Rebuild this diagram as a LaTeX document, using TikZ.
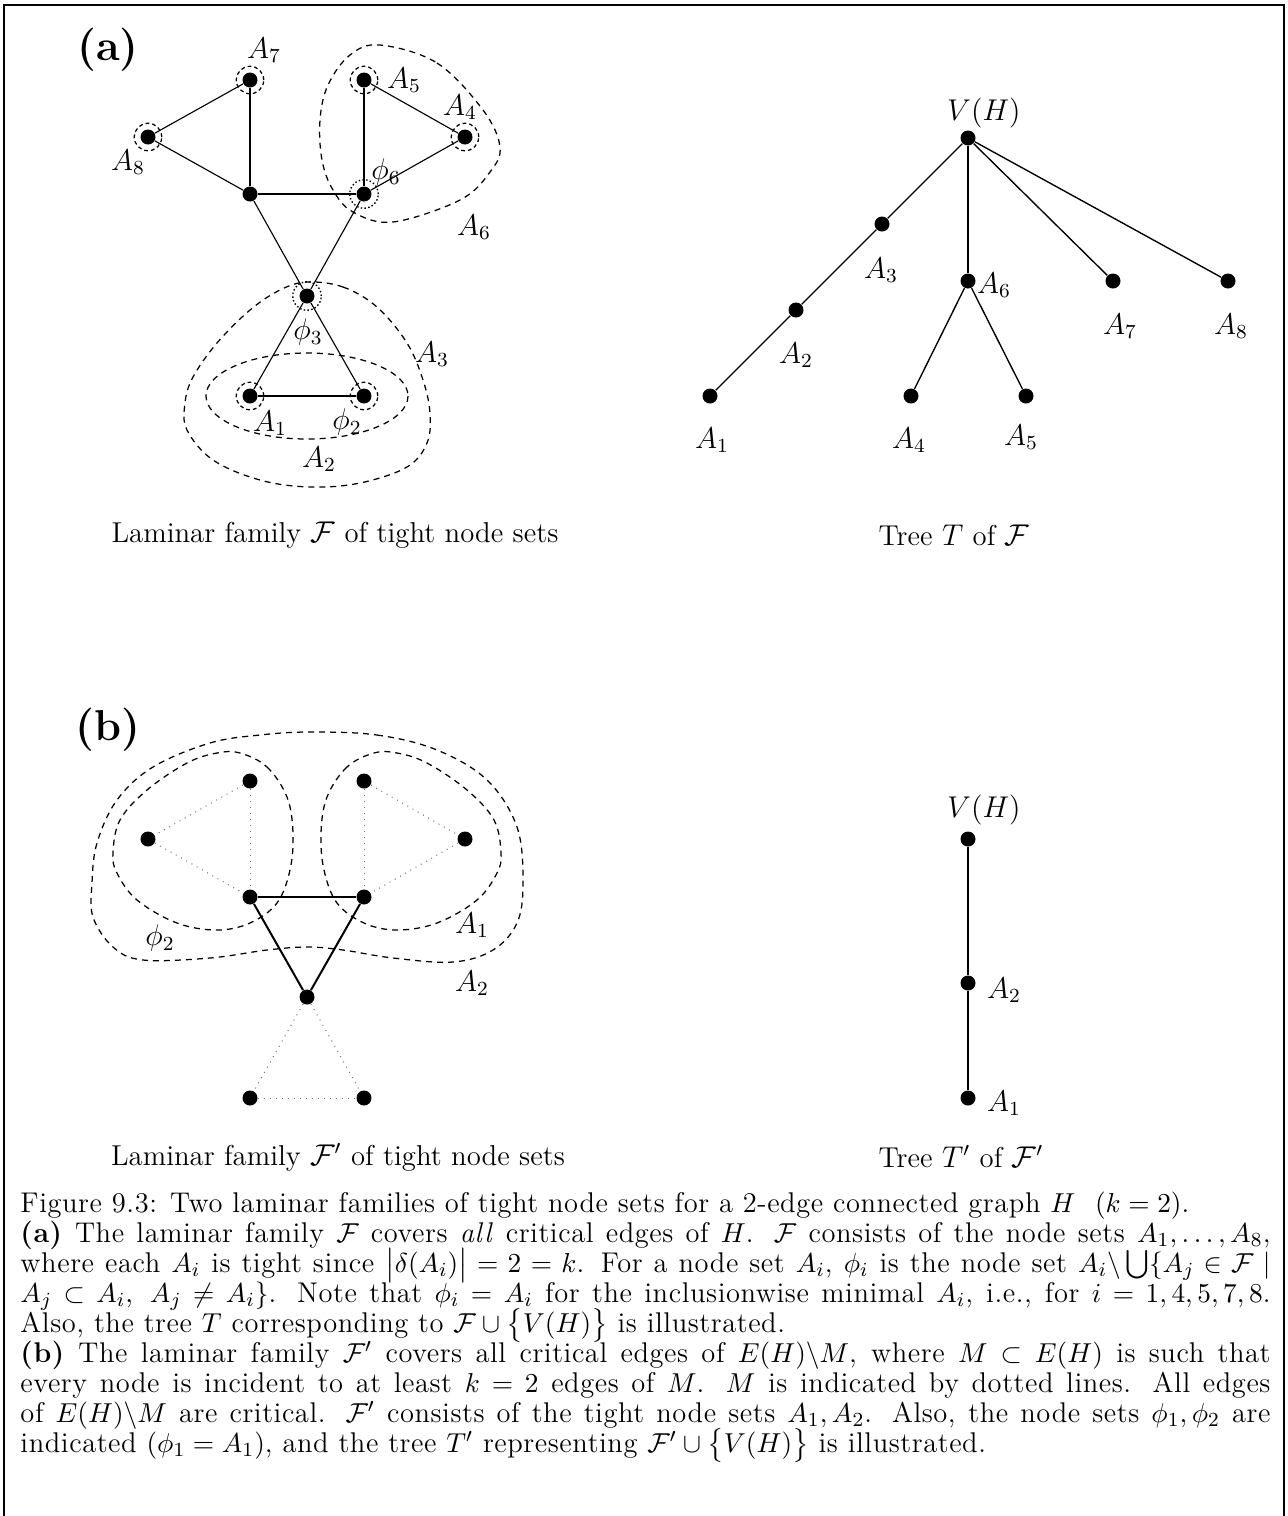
\documentclass[tikz,border=0pt]{standalone}
\usepackage{amsmath,amssymb}
\usepackage{fontspec}
\setmainfont{Latin Modern Roman}
\begin{document}
\begin{tikzpicture}[x=0.4pt,y=-0.4pt,
  dot/.style={circle,fill=black,inner sep=0pt,minimum size=6pt},
  ring/.style={circle,draw,dash pattern=on 1.5pt off 1.2pt,line width=0.5pt,minimum size=11pt,inner sep=0pt},
  dring/.style={circle,draw,dash pattern=on 0.6pt off 0.9pt,line width=0.55pt,minimum size=11.4pt,inner sep=0pt},
  edge/.style={line width=0.45pt},
  tedge/.style={line width=0.55pt},
  critedge/.style={line width=0.8pt},
  medge/.style={dotted,line width=0.4pt,black!55},
  setline/.style={dash pattern=on 2.4pt off 2pt,line width=0.5pt},
  lab/.style={inner sep=0pt,font=\fontsize{11.5}{13}\selectfont},
  sub/.style={inner sep=0pt,font=\fontsize{11.5}{13}\selectfont},
  part/.style={inner sep=0pt,font=\fontsize{17.28}{20}\selectfont\bfseries}
]
\useasboundingbox (0,0) rectangle (1288,1516);
% frame
\draw[line width=0.8pt] (4,1530) -- (4,5) -- (1284,5) -- (1284,1530);

% ---------------- (a) graph
\node[part] (pa) at (108,50) {(a)};
\node[dot] (g7) at (250,80) {};
\node[dot] (g8) at (148,137) {};
\node[dot] (gc) at (250,194) {};
\node[dot] (g6) at (364,194) {};
\node[dot] (g5) at (364,80) {};
\node[dot] (g4) at (465,137) {};
\node[dot] (g3) at (307,296) {};
\node[dot] (g1) at (250,396) {};
\node[dot] (g2) at (364,396) {};
\node[ring] (r7) at (250,80) {};
\node[ring] (r8) at (148,137) {};
\node[ring] (r5) at (364,80) {};
\node[ring] (r4) at (465,137) {};
\node[ring] (r1) at (250,396) {};
\node[ring] (r2) at (364,396) {};
\node[dring] (d6) at (364,194) {};
\node[dring] (d3) at (307,296) {};
\draw[edge] (g8) -- (g7);
\draw[edge] (g7) -- (gc);
\draw[edge] (g8) -- (gc);
\draw[edge] (gc) -- (g6);
\draw[edge] (g5) -- (g6);
\draw[edge] (g5) -- (g4);
\draw[edge] (g4) -- (g6);
\draw[edge] (gc) -- (g3);
\draw[edge] (g6) -- (g3);
\draw[edge] (g3) -- (g1);
\draw[edge] (g3) -- (g2);
\draw[edge] (g1) -- (g2);
% set curves
\draw[setline] plot[smooth cycle,tension=0.6] coordinates {(380,45) (437,63) (483,110) (500,147) (490,172) (460,200) (393,222) (353,212) (333,190) (322,160) (320,120) (328,85) (350,55)};
\draw[setline] plot[smooth cycle,tension=0.6] coordinates {(307,282) (343,287) (377,307) (407,343) (423,380) (430,413) (427,443) (407,467) (360,483) (310,487) (260,480) (213,460) (187,430) (185,403) (193,377) (217,343) (250,310) (280,290)};
\draw[setline] (307,396) ellipse [x radius=101, y radius=43];
% labels
\node[lab] (l7) at (264,50) {$A_7$};
\node[lab] (l5) at (404,80) {$A_5$};
\node[lab] (l4) at (460,107) {$A_4$};
\node[lab] (l8) at (128,162) {$A_8$};
\node[lab] (p6) at (386,172) {$\phi_6$};
\node[lab] (l6) at (474,227) {$A_6$};
\node[lab] (p3) at (308,332) {$\phi_3$};
\node[lab] (l3) at (432,354) {$A_3$};
\node[lab] (l1) at (270,423) {$A_1$};
\node[lab] (p2) at (347,422) {$\phi_2$};
\node[lab] (l2) at (319,459) {$A_2$};
\node[sub] (capa) at (335,535) {Laminar family $\mathcal{F}$ of tight node sets};

% ---------------- (a) tree
\node[dot] (tv) at (968,138) {};
\node[dot] (t3) at (882,224) {};
\node[dot] (t2) at (796,310) {};
\node[dot] (t1) at (710,396) {};
\node[dot] (t6) at (968,281) {};
\node[dot] (t4) at (911,396) {};
\node[dot] (t5) at (1026,396) {};
\node[dot] (t7) at (1113,281) {};
\node[dot] (t8) at (1228,281) {};
\draw[tedge] (tv) -- (t3);
\draw[tedge] (t3) -- (t2);
\draw[tedge] (t2) -- (t1);
\draw[tedge] (tv) -- (t6);
\draw[tedge] (t6) -- (t4);
\draw[tedge] (t6) -- (t5);
\draw[tedge] (tv) -- (t7);
\draw[tedge] (tv) -- (t8);
\node[lab] (tlv) at (984,113) {$V(H)$};
\node[lab] (tl3) at (881,270) {$A_3$};
\node[lab] (tl2) at (796,355) {$A_2$};
\node[lab] (tl1) at (712,440) {$A_1$};
\node[lab] (tl6) at (994,285) {$A_6$};
\node[lab] (tl4) at (909,440) {$A_4$};
\node[lab] (tl5) at (1021,437) {$A_5$};
\node[lab] (tl7) at (1120,326) {$A_7$};
\node[lab] (tl8) at (1231,326) {$A_8$};
\node[sub] (capt) at (954,535) {Tree $T$ of $\mathcal{F}$};

% ---------------- (b) graph
\node[part] (pb) at (108,730) {(b)};
\node[dot] (b1) at (250,781) {};
\node[dot] (b2) at (148,839) {};
\node[dot] (b3) at (250,897) {};
\node[dot] (b4) at (364,781) {};
\node[dot] (b5) at (465,839) {};
\node[dot] (b6) at (364,897) {};
\node[dot] (b7) at (307,997) {};
\node[dot] (b8) at (250,1098) {};
\node[dot] (b9) at (364,1098) {};
\draw[medge] (b1) -- (b2);
\draw[medge] (b1) -- (b3);
\draw[medge] (b2) -- (b3);
\draw[medge] (b4) -- (b5);
\draw[medge] (b4) -- (b6);
\draw[medge] (b5) -- (b6);
\draw[medge] (b7) -- (b8);
\draw[medge] (b7) -- (b9);
\draw[medge] (b8) -- (b9);
\draw[critedge] (b3) -- (b6);
\draw[critedge] (b3) -- (b7);
\draw[critedge] (b6) -- (b7);
\draw[setline] plot[smooth cycle,tension=0.6] coordinates {(240,753) (267,767) (287,797) (293,833) (290,870) (277,903) (250,923) (217,930) (177,923) (137,900) (117,873) (113,853) (120,820) (147,790) (187,763) (217,753)};
\draw[setline] plot[smooth cycle,tension=0.6] coordinates {(374,753) (347,767) (327,797) (321,833) (324,870) (337,903) (364,923) (397,930) (437,923) (477,900) (497,873) (501,853) (494,820) (467,790) (427,763) (397,753)};
\draw[setline] plot[smooth cycle,tension=0.6] coordinates {(310,732) (377,735) (437,750) (487,780) (517,827) (523,883) (517,923) (493,950) (453,962) (393,958) (343,950) (307,947) (267,950) (210,958) (143,960) (113,947) (93,917) (92,883) (97,843) (117,800) (153,767) (210,743) (260,735)};
\node[lab] (bp2) at (160,938) {$\phi_2$};
\node[lab] (bl1) at (472,925) {$A_1$};
\node[lab] (bl2) at (472,983) {$A_2$};
\node[sub] (capb) at (338,1157) {Laminar family $\mathcal{F}'$ of tight node sets};

% ---------------- (b) tree
\node[dot] (sv) at (968,839) {};
\node[dot] (s2) at (968,983) {};
\node[dot] (s1) at (968,1098) {};
\draw[tedge] (sv) -- (s2);
\draw[tedge] (s2) -- (s1);
\node[lab] (slv) at (984,810) {$V(H)$};
\node[lab] (sl2) at (1004,990) {$A_2$};
\node[lab] (sl1) at (1004,1103) {$A_1$};
\node[sub] (capt2) at (961,1157) {Tree $T'$ of $\mathcal{F}'$};

% ---------------- caption
\node[anchor=north west,inner sep=0pt,text width=500pt,align=justify,font=\fontsize{11.4}{12}\selectfont\addfontfeature{LetterSpace=2}] (cap) at (20,1191) {%
\lineskiplimit=-20pt\lineskip=0pt
\noindent Figure 9.3: Two laminar families of tight node sets for a 2-edge connected graph $H$~~$(k=2)$.\par
\noindent\textbf{(a)} The laminar family $\mathcal{F}$ covers \textit{all} critical edges of $H$. $\mathcal{F}$ consists of the node sets $A_1,\ldots,A_8$,\linebreak
where each $A_i$ is tight since $\bigl|\delta(A_i)\bigr|=2=k$. For a node set $A_i$, $\phi_i$ is the node set $A_i\backslash\bigcup\{A_j\in\mathcal{F}\mid$\linebreak
$A_j\subset A_i,\ A_j\neq A_i\}$. Note that $\phi_i=A_i$ for the inclusionwise minimal $A_i$, i.e., for $i=1,4,5,7,8$.\linebreak
Also, the tree $T$ corresponding to $\mathcal{F}\cup\bigl\{V(H)\bigr\}$ is illustrated.\par
\noindent\textbf{(b)} The laminar family $\mathcal{F}'$ covers all critical edges of $E(H)\backslash M$, where $M\subset E(H)$ is such that\linebreak
every node is incident to at least $k=2$ edges of $M$. $M$ is indicated by dotted lines. All edges\linebreak
of $E(H)\backslash M$ are critical. $\mathcal{F}'$ consists of the tight node sets $A_1,A_2$. Also, the node sets $\phi_1,\phi_2$ are\linebreak
indicated $(\phi_1=A_1)$, and the tree $T'$ representing $\mathcal{F}'\cup\bigl\{V(H)\bigr\}$ is illustrated.\par};
\end{tikzpicture}
\end{document}
